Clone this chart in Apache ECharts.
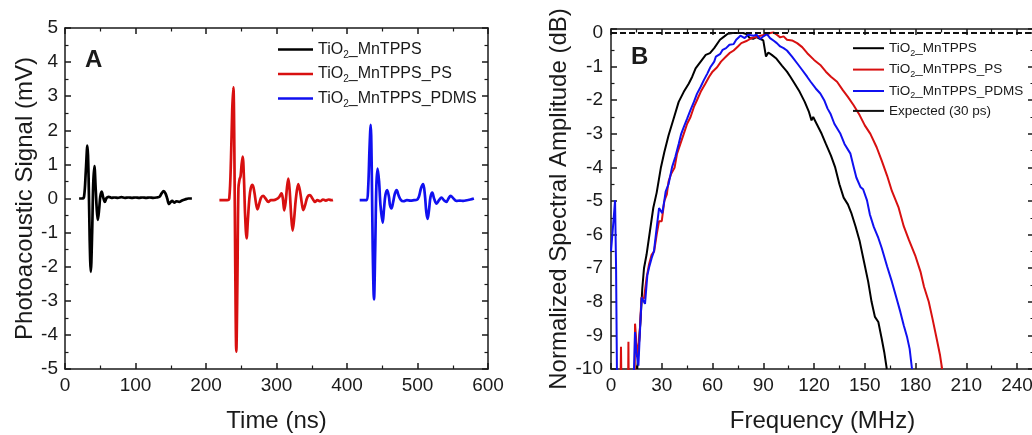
<!DOCTYPE html>
<html>
<head>
<meta charset="utf-8">
<script src="https://cdn.jsdelivr.net/npm/echarts/dist/echarts.min.js"></script>
<style>
html, body { margin: 0; padding: 0; background: #fff; }
#main { width: 1032px; height: 435px; }
</style>
</head>
<body>
<div id="main"></div>
<script>
// ---- panel A: photoacoustic signal (time ns, mV) ----
var tBlack = [20, 24, 27, 29.5, 31.7, 33.5, 35, 36.6, 38.5, 40, 41.7, 43.5, 45, 46.5, 48.5, 50, 52, 54, 56.5, 59, 62, 66, 70, 75, 80, 85, 90, 95, 100, 105, 110, 115, 120, 125, 130, 134, 137, 140, 142.5, 145, 147.5, 150, 152, 155, 158, 162, 166, 170, 175, 180];
var vBlack = [0, 0, 0.05, 0.8, 1.55, 0.6, -1.2, -2.15, -1.0, 0.4, 0.95, 0.3, -0.3, -0.63, -0.3, 0.05, 0.2, 0.05, -0.1, 0.02, 0.05, 0.02, 0.03, 0.02, 0.04, 0.02, 0.03, 0.02, 0.03, 0.02, 0.03, 0.02, 0.03, 0.02, 0.03, 0.05, 0.15, 0.22, 0.15, 0, -0.16, -0.1, -0.07, -0.12, -0.08, -0.1, -0.06, -0.03, 0, 0];

var tRed = [219, 225, 230, 233, 235.5, 237.2, 238.8, 240.2, 241.5, 243, 244.5, 246, 247.5, 249, 250.5, 252, 253.8, 255.5, 257.6, 259.5, 261.5, 263.5, 266, 268.5, 271, 273, 275.5, 278, 281, 284.5, 288.5, 292, 296, 300, 304, 307, 309, 311, 313, 315, 316.8, 318.8, 320.8, 322.9, 325, 327.5, 330.9, 333.5, 336, 338, 340.5, 344, 347.5, 351, 354.6, 358, 362, 366, 370, 374, 378, 380];
var vRed = [-0.05, -0.05, -0.05, 0, 1.2, 2.6, 3.26, 1.5, -2.0, -4.49, -2.5, 0.3, 0.55, 0.65, 1.0, 1.23, 0.6, -0.5, -1.17, -0.6, 0, 0.3, 0.4, 0.2, -0.15, -0.32, -0.15, 0.02, 0.08, 0, -0.1, -0.05, -0.05, -0.02, 0.05, 0.15, 0, -0.35, -0.1, 0.35, 0.58, 0.2, -0.5, -0.94, -0.6, 0, 0.42, 0.2, -0.15, -0.34, -0.2, 0.05, 0.1, 0, -0.1, -0.05, -0.08, -0.03, -0.06, -0.03, -0.05, -0.04];

var tBlue = [418, 424, 428, 430, 432, 433.6, 435, 436.5, 438.3, 440, 441.7, 443.5, 445.5, 447.5, 450.6, 452.5, 454.5, 457, 459.5, 461, 463, 465.5, 468, 470.5, 473, 476.6, 480, 485, 490, 495, 499, 502, 505, 508, 510.5, 512.5, 514.4, 516.5, 518.5, 521, 523.5, 527, 530.5, 534, 537.5, 541, 544, 547, 551, 555, 560, 565, 570, 575, 580];
var vBlue = [-0.05, -0.05, -0.05, 0.3, 1.5, 2.16, 1.0, -1.5, -2.96, -1.5, 0.4, 0.88, 0.5, -0.2, -0.71, -0.3, 0.1, 0.25, 0.05, -0.2, -0.29, -0.1, 0.15, 0.25, 0.1, -0.05, -0.08, -0.05, -0.06, -0.05, -0.04, 0.05, 0.3, 0.42, 0.1, -0.4, -0.6, -0.3, 0.05, 0.17, 0, -0.15, -0.05, 0.03, -0.05, -0.1, 0, 0.08, 0, -0.07, -0.06, -0.07, -0.05, -0.03, 0];

// ---- panel B: normalized spectra (MHz, dB) ----
var fBlack = [15.5, 17.5, 18.5, 19.5, 21, 23, 25, 27, 29.5, 31.5, 34, 37, 40, 43, 46, 48, 50, 53, 56, 58.5, 61, 64.4, 67, 69, 72, 75, 78, 80, 82, 84, 86, 88, 90, 91.6, 93, 95, 97.5, 101, 104, 106, 108.5, 111.5, 114.5, 117, 118.5, 119.5, 121.5, 124.5, 127, 130, 132.5, 135, 137.5, 140, 142, 144.5, 147, 149.5, 152, 154, 156, 158, 160, 161.5, 163];
var dBlack = [-10, -8.5, -7.6, -7.0, -6.6, -5.9, -5.2, -4.75, -4.0, -3.55, -3.05, -2.55, -2.05, -1.75, -1.5, -1.3, -1.05, -0.85, -0.65, -0.6, -0.45, -0.2, -0.1, -0.02, 0, 0, 0, -0.03, -0.15, -0.17, -0.12, -0.17, -0.22, -0.7, -0.58, -0.65, -0.75, -0.97, -1.15, -1.3, -1.5, -1.75, -2.05, -2.35, -2.6, -2.5, -2.7, -3.0, -3.3, -3.65, -4.0, -4.5, -4.9, -5.1, -5.35, -5.75, -6.2, -6.8, -7.4, -8.0, -8.45, -8.6, -9.1, -9.5, -10];

var fRed = [3, 4.8, 5.9, 7.0, 9.6, 10.3, 11.0, 13.5, 14.2, 15.0, 16.0, 17.0, 18.0, 19.5, 21, 22.5, 24, 25.5, 27, 28.4, 30, 31.5, 33, 34, 35.5, 37.6, 39, 41, 43, 45, 47, 49, 50.8, 53, 55.8, 58, 60, 62.7, 65, 68, 70, 72.5, 75, 77, 80.4, 83, 86, 88.3, 91, 94.2, 96, 98, 100, 102, 104, 107, 110, 113, 116, 120, 123.7, 127, 130, 133.6, 137, 140, 143.4, 147, 150, 153.3, 157, 160, 163.2, 166, 170, 173, 176, 180, 182.9, 185, 187.8, 190, 192.7, 194.5, 195.7];
var dRed = [-14, -14, -9.34, -14, -14, -9.19, -14, -14, -8.65, -9.2, -9.6, -8.9, -7.87, -7.9, -7.3, -6.88, -6.6, -6.5, -6.0, -5.6, -5.6, -5.0, -4.8, -4.42, -4.2, -4.0, -3.6, -3.3, -3.0, -2.7, -2.5, -2.2, -2.0, -1.75, -1.5, -1.3, -1.15, -1.02, -0.85, -0.7, -0.6, -0.52, -0.4, -0.3, -0.23, -0.15, -0.12, -0.08, -0.05, 0, 0.02, -0.05, -0.13, -0.1, -0.2, -0.22, -0.3, -0.42, -0.6, -0.8, -0.95, -1.15, -1.3, -1.45, -1.7, -1.9, -2.15, -2.45, -2.75, -3.0, -3.4, -3.8, -4.25, -4.7, -5.2, -5.75, -6.15, -6.65, -7.1, -7.55, -8.0, -8.5, -9.15, -9.6, -10];

var fBlue = [0, 0.8, 1.6, 2.4, 3.0, 3.5, 4, 13, 13.6, 14.2, 15, 16.2, 17, 18.1, 20.1, 21.5, 22.5, 24, 25.4, 27, 28.4, 30.3, 31.5, 32.3, 34, 36.1, 38, 40, 41.5, 43, 45, 46.9, 49, 50.8, 53, 54.8, 57, 58.7, 61, 62, 64.6, 66, 68, 70, 72.5, 74, 76.5, 79, 81, 84.3, 86, 88.3, 90, 92.2, 94, 96.2, 98, 100, 102, 104, 107, 110, 113, 115.9, 118, 121, 123.7, 126, 128, 129.7, 132, 135.6, 138, 141.5, 143.5, 145, 147.4, 149, 151.3, 153, 155.3, 158, 160, 163.2, 166, 169, 171, 173, 174.9, 176.5, 177.9];
var dBlue = [-6.5, -6.5, -5.5, -4.98, -7, -10, -14, -14, -10, -8.9, -9.5, -9.9, -9.0, -7.87, -8.06, -7.2, -6.98, -6.7, -6.49, -5.8, -5.21, -5.36, -5.0, -4.72, -4.5, -3.99, -3.69, -3.3, -3.0, -2.8, -2.55, -2.3, -2.05, -1.81, -1.6, -1.41, -1.2, -1.02, -0.85, -0.7, -0.62, -0.5, -0.45, -0.35, -0.33, -0.2, -0.08, -0.15, -0.05, -0.08, -0.05, -0.18, -0.1, -0.03, -0.15, -0.23, -0.3, -0.4, -0.45, -0.52, -0.7, -0.9, -1.1, -1.3, -1.45, -1.65, -1.8, -2.0, -2.25, -2.4, -2.7, -3.0, -3.3, -3.59, -4.0, -4.3, -4.58, -4.65, -4.98, -5.4, -5.77, -6.1, -6.4, -6.95, -7.4, -7.94, -8.3, -8.7, -9.03, -9.4, -10];

var fExpected = [0, 250];
var dExpected = [0, 0];

var namesA = ['TiO2_MnTPPS', 'TiO2_MnTPPS_PS', 'TiO2_MnTPPS_PDMS'];
var namesB = ['TiO2_MnTPPS', 'TiO2_MnTPPS_PS', 'TiO2_MnTPPS_PDMS', 'Expected (30 ps)'];

var FONT = '"Liberation Sans", Arial, sans-serif';
var INK = '#1a1a1a';
var RED = '#d81010';
var BLUE = '#1010f0';

function zip(xs, ys) {
    return xs.map(function (x, i) { return [x, ys[i]]; });
}

// 轴的通用样式: 刻度朝内, 带次刻度
function axis(opt) {
    var a = {
        type: 'value',
        axisLine: { show: true, onZero: false, lineStyle: { color: INK, width: 1.5 } },
        axisTick: { show: true, inside: true, length: 6, lineStyle: { color: INK, width: 1.5 } },
        minorTick: { show: true, splitNumber: 2, length: 3.5, lineStyle: { color: INK, width: 1.2 } },
        axisLabel: { show: false },
        splitLine: { show: false }
    };
    for (var k in opt) a[k] = opt[k];
    return a;
}

var label = function (margin, fmt) {
    return { show: true, fontSize: 19, color: INK, fontFamily: FONT, margin: margin, formatter: fmt };
};
var intOnly = function (v) { return Math.abs(v - Math.round(v)) < 1e-9 ? String(Math.round(v)) : ''; };
var by30 = function (v) { return v % 30 === 0 ? String(v) : ''; };
var nameStyle = { fontSize: 24, color: INK, fontFamily: FONT };

function legendFmt(name) {
    return name.replace('TiO2', 'TiO{s|2}');
}

var option = {
    animation: false,
    backgroundColor: '#fff',
    textStyle: { fontFamily: FONT },
    grid: [
        { left: 65, top: 28, width: 423, height: 341, outerBoundsMode: 'none' },
        { left: 611, top: 29, width: 423, height: 340, outerBoundsMode: 'none' }
    ],
    xAxis: [
        axis({ gridIndex: 0, position: 'bottom', min: 0, max: 600, interval: 100, axisLabel: label(7),
            name: 'Time (ns)', nameLocation: 'middle', nameGap: 40, nameTextStyle: nameStyle }),
        axis({ gridIndex: 0, position: 'top', min: 0, max: 600, interval: 100 }),
        axis({ gridIndex: 1, position: 'bottom', min: 0, max: 250, interval: 30, axisLabel: label(7, by30),
            name: 'Frequency (MHz)', nameLocation: 'middle', nameGap: 40, nameTextStyle: nameStyle }),
        axis({ gridIndex: 1, position: 'top', min: 0, max: 250, interval: 30 })
    ],
    yAxis: [
        axis({ gridIndex: 0, position: 'left', min: -5, max: 5, interval: 1, axisLabel: label(7),
            name: 'Photoacoustic Signal (mV)', nameLocation: 'middle', nameGap: 28, nameTextStyle: nameStyle }),
        axis({ gridIndex: 0, position: 'right', min: -5, max: 5, interval: 1 }),
        axis({ gridIndex: 1, position: 'left', min: -10, max: 0.12, interval: 1, axisLabel: label(8, intOnly),
            name: 'Normalized Spectral Amplitude (dB)', nameLocation: 'middle', nameGap: 40, nameTextStyle: nameStyle }),
        axis({ gridIndex: 1, position: 'right', min: -10, max: 0.12, interval: 1 })
    ],
    legend: [
        {
            data: namesA, orient: 'vertical', left: 278, top: 39, padding: 0,
            icon: 'rect', itemWidth: 35, itemHeight: 2.6, itemGap: 3.5,
            formatter: legendFmt,
            textStyle: { fontSize: 16, color: INK, lineHeight: 18, rich: { s: { fontSize: 10, lineHeight: 21, verticalAlign: 'bottom' } } }
        },
        {
            data: namesB,
            orient: 'vertical', left: 853, top: 38.7, padding: 0,
            icon: 'rect', itemWidth: 31, itemHeight: 2, itemGap: 2.4,
            formatter: legendFmt,
            textStyle: { fontSize: 13.5, color: INK, lineHeight: 16, rich: { s: { fontSize: 9, lineHeight: 19, verticalAlign: 'bottom' } } }
        }
    ],
    graphic: [
        { type: 'text', left: 85, top: 48, style: { text: 'A', font: 'bold 24px ' + FONT, fill: INK } },
        { type: 'text', left: 631, top: 45, style: { text: 'B', font: 'bold 24px ' + FONT, fill: INK } }
    ],
    series: [
        { name: namesA[0], type: 'line', xAxisIndex: 0, yAxisIndex: 0, data: zip(tBlack, vBlack), symbol: 'none', smooth: 0.35, color: '#000', lineStyle: { width: 2.7 } },
        { name: namesA[1], type: 'line', xAxisIndex: 0, yAxisIndex: 0, data: zip(tRed, vRed), symbol: 'none', smooth: 0.35, color: RED, lineStyle: { width: 2.7 } },
        { name: namesA[2], type: 'line', xAxisIndex: 0, yAxisIndex: 0, data: zip(tBlue, vBlue), symbol: 'none', smooth: 0.35, color: BLUE, lineStyle: { width: 2.7 } },

        { name: namesB[0], type: 'line', xAxisIndex: 2, yAxisIndex: 2, data: zip(fBlack, dBlack), symbol: 'none', color: '#000', lineStyle: { width: 2 } },
        { name: namesB[1], type: 'line', xAxisIndex: 2, yAxisIndex: 2, data: zip(fRed, dRed), symbol: 'none', color: RED, lineStyle: { width: 2 } },
        { name: namesB[2], type: 'line', xAxisIndex: 2, yAxisIndex: 2, data: zip(fBlue, dBlue), symbol: 'none', color: BLUE, lineStyle: { width: 2 } },
        { name: namesB[3], type: 'line', xAxisIndex: 2, yAxisIndex: 2, data: zip(fExpected, dExpected), symbol: 'none', color: '#111', lineStyle: { width: 2, type: [6, 3] } }
    ]
};

var chart = echarts.init(document.getElementById('main'));
chart.setOption(option);
</script>
</body>
</html>
